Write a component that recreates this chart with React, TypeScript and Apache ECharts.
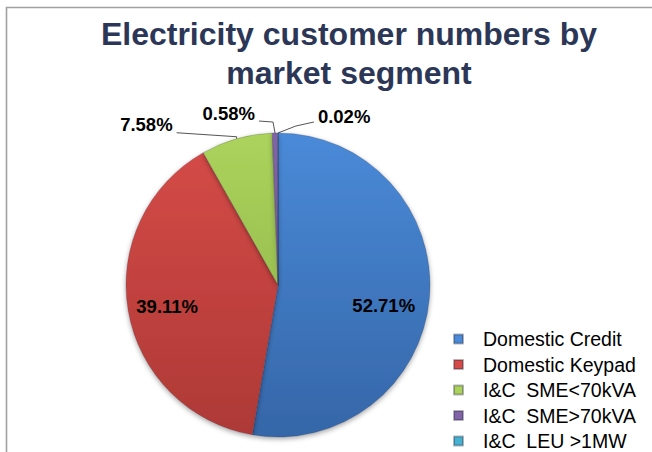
import React, { useEffect, useRef } from "react";
import * as echarts from "echarts";

const CATEGORIES = [
  "Domestic Credit",
  "Domestic Keypad",
  "I&C  SME<70kVA",
  "I&C  SME>70kVA",
  "I&C  LEU >1MW",
];
const VALUES = [52.71, 39.11, 7.58, 0.58, 0.02];
const TITLE_LINES = ["Electricity customer numbers by", "market segment"];

// styling (not data)
const TOP_COLORS = ["#4a8ad8", "#d64b48", "#abd35c", "#8164a8", "#45b2d2"];
const BOTTOM_COLORS = ["#3566a8", "#ad3936", "#8aae44", "#664a8c", "#2f8dab"];
const CENTER: [number, number] = [278, 285];
const RADIUS = 152;

// label placement relative to the slice edge point
const INSIDE_OFFSETS: Record<number, [number, number]> = {
  0: [27, 14],
  1: [-33, 8],
};
const OUTER_SPEC: Record<
  number,
  { dx: number; dy: number; align: string; mid: [number, number]; end: [number, number] }
> = {
  2: { dx: -64, dy: -14, align: "right", mid: [0, -2], end: [-60, -6] },
  3: { dx: -20, dy: -20, align: "right", mid: [-2, -11], end: [-16, -12] },
  4: { dx: 40, dy: -17, align: "left", mid: [18, -7], end: [36, -11] },
};

const FONT = "'Liberation Sans', Arial, Helvetica, sans-serif";

export default function App() {
  const ref = useRef<HTMLDivElement>(null);
  useEffect(() => {
    if (!ref.current) return;
    const chart = echarts.init(ref.current, undefined, { renderer: "svg" });
    const top = CENTER[1] - RADIUS;
    const bottom = CENTER[1] + RADIUS;
    const data = VALUES.map((v, i) => {
      const color = new echarts.graphic.LinearGradient(
        0,
        top,
        0,
        bottom,
        [
          { offset: 0, color: TOP_COLORS[i] },
          { offset: 1, color: BOTTOM_COLORS[i] },
        ],
        true
      );
      const inside = INSIDE_OFFSETS[i];
      return {
        name: CATEGORIES[i],
        value: v,
        itemStyle: { color },
        label: inside
          ? { position: "inside", offset: inside }
          : { position: "outside" },
        labelLine: { show: !inside, length: 4, length2: 10 },
      };
    });

    chart.setOption({
      animation: false,
      backgroundColor: "#ffffff",
      graphic: [
        {
          type: "polyline",
          shape: { points: [[6.5, 452], [6.5, 7.5], [652, 7.5]] },
          style: { stroke: "#a0a0a0", lineWidth: 1.6, fill: "none" },
          silent: true,
        },
        {
          type: "text",
          x: 349,
          y: 15,
          style: {
            text: TITLE_LINES.join("\n"),
            align: "center",
            verticalAlign: "top",
            fontFamily: FONT,
            fontWeight: "bold",
            fontSize: 32,
            lineHeight: 38.5,
            fill: "#2c3757",
          },
          silent: true,
        },
      ],
      legend: {
        orient: "vertical",
        left: 453,
        top: 329,
        height: 160,
        padding: 0,
        icon: "rect",
        itemWidth: 9,
        itemHeight: 9,
        itemGap: 5.5,
        selectedMode: false,
        textStyle: {
          fontFamily: FONT,
          fontSize: 19.5,
          color: "#000000",
          padding: [0, 0, 0, 15],
        },
        data: CATEGORIES,
      },
      series: [
        {
          type: "pie",
          center: CENTER,
          radius: RADIUS,
          startAngle: 90,
          clockwise: true,
          avoidLabelOverlap: false,
          itemStyle: {
            borderColor: "rgba(40,40,60,0.35)",
            borderWidth: 0.6,
            shadowBlur: 5,
            shadowOffsetY: 2,
            shadowColor: "rgba(0,0,0,0.35)",
          },
          label: {
            formatter: (p: any) => `${VALUES[p.dataIndex].toFixed(2)}%`,
            fontFamily: FONT,
            fontWeight: "bold",
            fontSize: 18.5,
            color: "#000000",
          },
          labelLine: {
            lineStyle: { color: "#555555", width: 1 },
          },
          labelLayout: (p: any) => {
            const spec = OUTER_SPEC[p.dataIndex];
            const pts = p.labelLinePoints;
            if (!spec || !pts) return {};
            const e = pts[0];
            return {
              x: e[0] + spec.dx,
              y: e[1] + spec.dy,
              align: spec.align,
              verticalAlign: "middle",
              labelLinePoints: [
                [e[0], e[1]],
                [e[0] + spec.mid[0], e[1] + spec.mid[1]],
                [e[0] + spec.end[0], e[1] + spec.end[1]],
              ],
            };
          },
          data,
        },
      ],
    });
    return () => chart.dispose();
  }, []);
  return (
    <div
      ref={ref}
      style={{ position: "fixed", left: 0, top: 0, width: 652, height: 452 }}
    />
  );
}
